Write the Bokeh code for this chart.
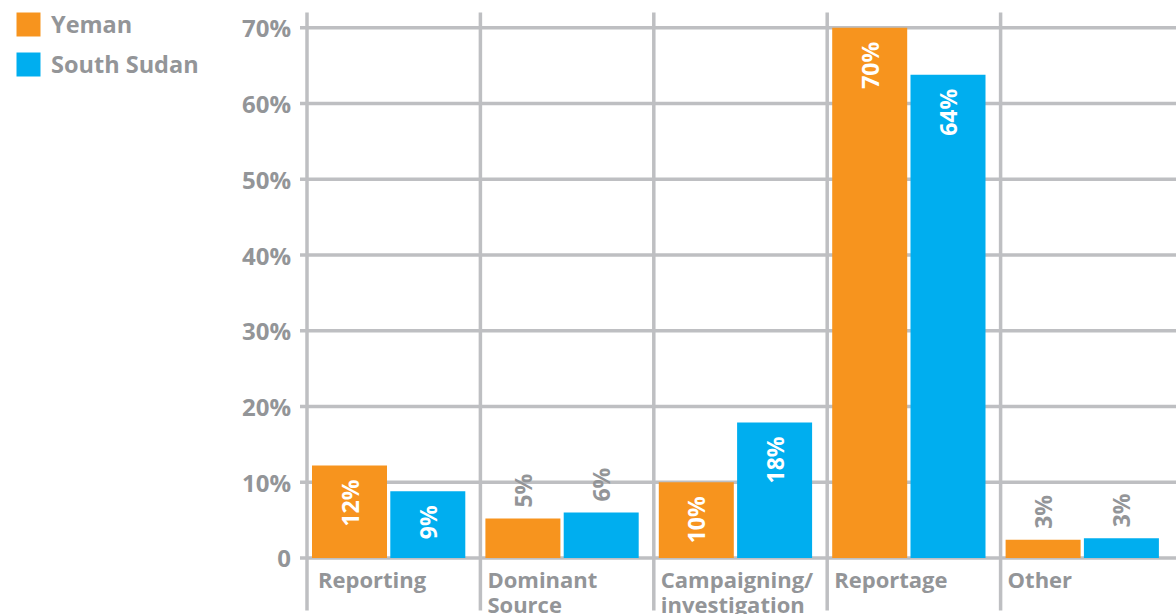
import numpy as np
from bokeh.plotting import figure
from bokeh.models import ColumnDataSource, Range1d, Legend, LegendItem
from bokeh.core.properties import value
from bokeh.embed import file_html
from bokeh.resources import INLINE

# ---- data ----
categories = ["Reporting", "Dominant\nSource", "Campaigning/\ninvestigation", "Reportage", "Other"]
series_names = ["Yeman", "South Sudan"]
yeman = [12.2, 5.2, 10.0, 70.0, 2.4]
south_sudan = [8.8, 6.0, 17.9, 63.8, 2.6]
yeman_labels = ["12%", "5%", "10%", "70%", "3%"]
south_sudan_labels = ["9%", "6%", "18%", "64%", "3%"]
y_ticks = [0, 10, 20, 30, 40, 50, 60, 70]
y_tick_labels = ["0", "10%", "20%", "30%", "40%", "50%", "60%", "70%"]

# ---- style ----
ORANGE = "#F7941E"
BLUE = "#00AEEF"
GRAY_TEXT = "#939598"
GRID = "#BEBFC2"
FONT = "Open Sans"
INSIDE_THRESHOLD = 8.0
label_x_offsets = [11, 7, 7, 7, 7]

W, H = 1176, 614
PX_PER_CAT = 173.4
X0_PX = 306.5            # screen x of the first category boundary
Y0_PX, Y70_PX = 557.5, 27.3
PX_PER_PCT = (Y0_PX - Y70_PX) / 70.0

x_start = -X0_PX / PX_PER_CAT
x_end = (W - X0_PX) / PX_PER_CAT
y_end = 70 + Y70_PX / PX_PER_PCT
y_start = -(H - Y0_PX) / PX_PER_PCT
grid_left = -7 / PX_PER_CAT
vgrid_top = 70 + (Y70_PX - 12) / PX_PER_PCT
vgrid_bottom = -(610 - Y0_PX) / PX_PER_PCT

idx = np.arange(len(categories))
bar_w = 75 / PX_PER_CAT
off_y = 42.5 / PX_PER_CAT
off_s = 120.8 / PX_PER_CAT

p = figure(width=W, height=H, output_backend="svg", toolbar_location=None,
           x_range=Range1d(x_start, x_end), y_range=Range1d(y_start, y_end),
           x_axis_location=None, y_axis_location=None,
           min_border=0, min_border_left=0, min_border_right=0,
           min_border_top=0, min_border_bottom=0)
p.outline_line_color = None
p.background_fill_color = "white"
p.border_fill_color = "white"
p.grid.visible = False

# grid lines (category boundaries and value ticks)
p.segment(x0=list(idx), x1=list(idx), y0=[vgrid_bottom] * len(idx), y1=[vgrid_top] * len(idx),
          line_color=GRID, line_width=3.5)
p.segment(x0=[grid_left] * len(y_ticks), x1=[x_end] * len(y_ticks), y0=y_ticks, y1=y_ticks,
          line_color=GRID, line_width=3.5)

# y tick labels
tick_src = ColumnDataSource(dict(x=[grid_left] * len(y_ticks), y=y_ticks, t=y_tick_labels))
p.text(x="x", y="y", text="t", source=tick_src, x_offset=-9, text_align="right",
       text_baseline="middle", text_color=GRAY_TEXT, text_font=value(FONT),
       text_font_style="bold", text_font_size="24px")

src_y = ColumnDataSource(dict(x=idx + off_y, top=yeman, lab=yeman_labels))
src_s = ColumnDataSource(dict(x=idx + off_s, top=south_sudan, lab=south_sudan_labels))

r_y = p.vbar(x="x", top="top", bottom=0, width=bar_w, source=src_y, fill_color=ORANGE, line_color=None)
r_s = p.vbar(x="x", top="top", bottom=0, width=bar_w, source=src_s, fill_color=BLUE, line_color=None)

# bar labels
for vals, labs, off in [(yeman, yeman_labels, off_y), (south_sudan, south_sudan_labels, off_s)]:
    ins = [i for i, v in enumerate(vals) if v >= INSIDE_THRESHOLD]
    outs = [i for i, v in enumerate(vals) if v < INSIDE_THRESHOLD]
    s_in = ColumnDataSource(dict(x=[i + off for i in ins], y=[vals[i] for i in ins], t=[labs[i] for i in ins]))
    s_out = ColumnDataSource(dict(x=[i + off for i in outs], y=[vals[i] for i in outs], t=[labs[i] for i in outs]))
    p.text(x="x", y="y", text="t", source=s_in, angle=np.pi / 2, text_align="right", text_baseline="middle",
           y_offset=14, text_color="white", text_font=value(FONT), text_font_style="bold",
           text_font_size="23px")
    p.text(x="x", y="y", text="t", source=s_out, angle=np.pi / 2, text_align="left", text_baseline="middle",
           y_offset=-11, text_color=GRAY_TEXT, text_font=value(FONT), text_font_style="bold",
           text_font_size="23px")

# category labels (one glyph per line)
lines = [c.split("\n") for c in categories]
line1 = [l[0] for l in lines]
line2 = [l[1] if len(l) > 1 else "" for l in lines]
for txt, yo in [(line1, 6), (line2, 30.5)]:
    cat_src = ColumnDataSource(dict(x=list(idx), y=[0] * len(categories), t=txt, xo=label_x_offsets))
    p.text(x="x", y="y", text="t", source=cat_src, x_offset="xo", y_offset=yo,
           text_align="left", text_baseline="top", text_color=GRAY_TEXT, text_font=value(FONT),
           text_font_style="bold", text_font_size="22px")

# legend
legend = Legend(items=[LegendItem(label=series_names[0], renderers=[r_y]),
                       LegendItem(label=series_names[1], renderers=[r_s])],
                location=(13, H - 12 - 68), orientation="vertical",
                glyph_width=30, glyph_height=30, label_height=30, spacing=8,
                label_standoff=8, padding=0, margin=0,
                border_line_color=None, background_fill_alpha=0,
                label_text_font=FONT, label_text_font_style="bold",
                label_text_font_size="23.5px", label_text_color=GRAY_TEXT)
p.add_layout(legend, "center")

open("out.html", "w").write(file_html(p, INLINE))
